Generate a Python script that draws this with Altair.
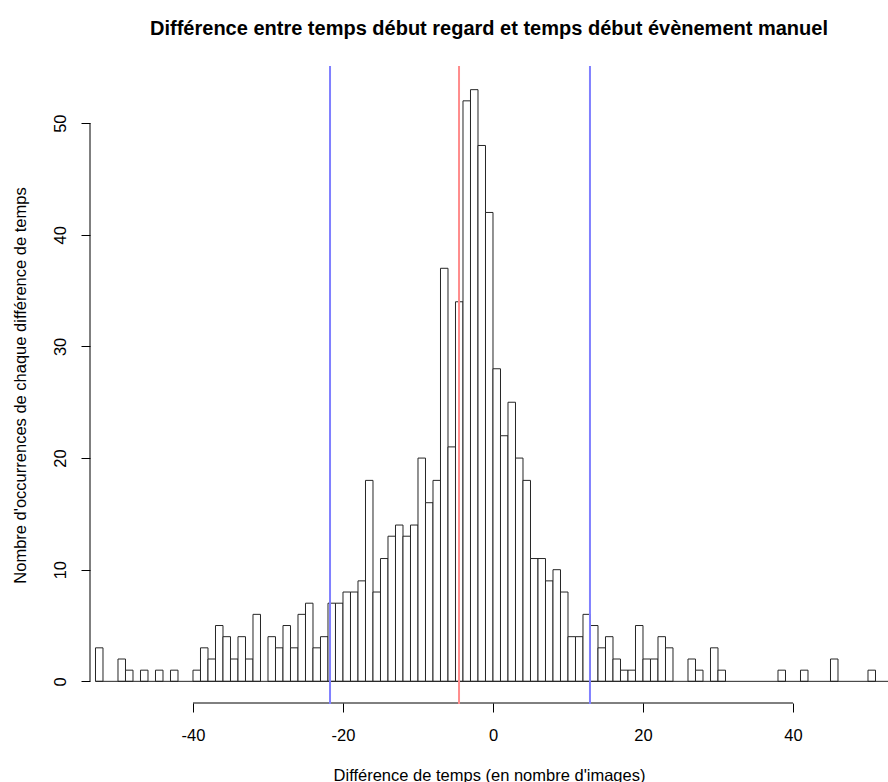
import altair as alt
import pandas as pd

# Histogram bins (left edge of each 1-wide bin) and their counts
bin_starts = [-53, -50, -49, -47, -45, -43, -40, -39, -38, -37, -36, -35, -34, -33, -32,
              -30, -29, -28, -27, -26, -25, -24, -23, -22, -21, -20, -19, -18, -17, -16,
              -15, -14, -13, -12, -11, -10, -9, -8, -7, -6, -5, -4, -3, -2, -1,
              0, 1, 2, 3, 4, 5, 6, 7, 8, 9, 10, 11, 12, 13, 14, 15, 16, 17, 18, 19,
              20, 21, 22, 23, 26, 27, 29, 30, 38, 41, 45, 50]
counts = [3, 2, 1, 1, 1, 1, 1, 3, 2, 5, 4, 2, 4, 2, 6,
          4, 3, 5, 3, 6, 7, 3, 4, 7, 7, 8, 8, 9, 18, 8,
          11, 13, 14, 13, 14, 20, 16, 18, 37, 21, 34, 52, 53, 48, 42,
          28, 22, 25, 20, 18, 11, 11, 9, 10, 8, 4, 4, 6, 5, 3, 4, 2, 1, 1, 5,
          2, 2, 4, 3, 2, 1, 3, 1, 1, 1, 2, 1]

# Vertical reference lines
center_line = [-4.53]
bound_lines = [-21.73, 12.93]

x_ticks = [-40, -20, 0, 20, 40]
y_ticks = [0, 10, 20, 30, 40, 50]

df = pd.DataFrame({"start": bin_starts, "count": counts})
df["end"] = df["start"] + 1
df["zero"] = 0

W, H = 798, 639
FONT = "Liberation Sans"

x_scale = alt.Scale(domain=[-53.733, 52.667], nice=False, zero=False)
y_scale = alt.Scale(domain=[-2.12, 55.12], nice=False, zero=False)

bars = alt.Chart(df).mark_rect(fill="white", stroke="#262626", strokeWidth=1).encode(
    x=alt.X("start:Q", scale=x_scale,
            axis=alt.Axis(values=x_ticks, title="Différence de temps (en nombre d'images)",
                          labelExpr="'' + datum.value",
                          domain=False, grid=False, tickSize=9, tickColor="black", tickWidth=1,
                          labelFont=FONT, labelFontSize=16.5, labelColor="black",
                          labelBaseline="alphabetic", labelPadding=28, labelFlush=False,
                          titleFont=FONT, titleFontSize=16.5, titleFontWeight="normal",
                          titleColor="black", titleBaseline="alphabetic", titleY=77,
                          offset=-2)),
    x2="end:Q",
    y=alt.Y("count:Q", scale=y_scale,
            axis=alt.Axis(values=y_ticks, title="Nombre d'occurrences de chaque différence de temps",
                          labelExpr="'' + datum.value",
                          domain=False, grid=False, tickSize=9, tickColor="black", tickWidth=1,
                          labelFont=FONT, labelFontSize=16.5, labelColor="black",
                          labelAngle=270, labelAlign="center", labelBaseline="alphabetic",
                          labelPadding=16, labelFlush=False,
                          titleFont=FONT, titleFontSize=16.5, titleFontWeight="normal",
                          titleColor="black", titleAngle=270, titleAlign="center",
                          titleBaseline="alphabetic", titleX=-65, titleY=319)),
    y2="zero:Q",
)

base_df = pd.DataFrame({"start": [bin_starts[0]], "count": [0]})
baseline = alt.Chart(base_df).mark_rule(color="#262626", strokeWidth=1).encode(
    x=alt.X("start:Q", scale=x_scale),
    x2=alt.value(W),
    y=alt.Y("count:Q", scale=y_scale),
)

yaxis_df = pd.DataFrame({"count": [y_ticks[0]], "hi": [y_ticks[-1]]})
yaxis_line = alt.Chart(yaxis_df).mark_rule(color="black", strokeWidth=1).encode(
    x=alt.value(0),
    y=alt.Y("count:Q", scale=y_scale),
    y2="hi:Q",
)

xaxis_df = pd.DataFrame({"start": [x_ticks[0]], "hi": [x_ticks[-1]]})
xaxis_line = alt.Chart(xaxis_df).mark_rule(color="black", strokeWidth=1).encode(
    x=alt.X("start:Q", scale=x_scale),
    x2="hi:Q",
    y=alt.value(H - 2),
)

blue = alt.Chart(pd.DataFrame({"start": bound_lines})).mark_rule(
    color="#8080ff", strokeWidth=2).encode(
    x=alt.X("start:Q", scale=x_scale),
    y=alt.value(0), y2=alt.value(H - 1),
)
red = alt.Chart(pd.DataFrame({"start": center_line})).mark_rule(
    color="#ff8c8c", strokeWidth=2).encode(
    x=alt.X("start:Q", scale=x_scale),
    y=alt.value(0), y2=alt.value(H - 1),
)

chart = alt.layer(bars, baseline, yaxis_line, xaxis_line, blue, red).properties(
    width=W, height=H,
    title=alt.TitleParams(
        "Différence entre temps début regard et temps début évènement manuel",
        font=FONT, fontSize=20, fontWeight="bold", color="black",
        anchor="middle", frame="group", baseline="alphabetic", offset=10),
    padding={"left": 90, "top": 66, "right": 0, "bottom": 77},
    autosize=alt.AutoSizeParams(type="none"),
    background="white",
).configure_view(stroke=None)

chart.save("out.html", embed_options={"renderer": "svg", "actions": False})
